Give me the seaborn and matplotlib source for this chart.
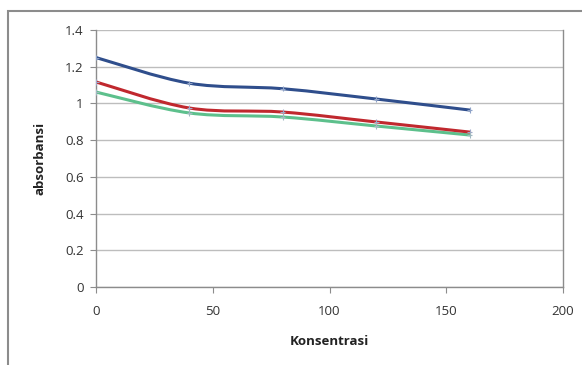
import numpy as np
import pandas as pd
import matplotlib
matplotlib.use("Agg")
import matplotlib.pyplot as plt
import seaborn as sns
from matplotlib.path import Path
from matplotlib.patches import PathPatch, Rectangle

konsentrasi = [0, 40, 80, 120, 160]
seri_biru = [1.25, 1.11, 1.08, 1.024, 0.964]
seri_merah = [1.117, 0.975, 0.953, 0.899, 0.844]
seri_hijau = [1.062, 0.948, 0.926, 0.877, 0.828]
y_ticks = [0, 0.2, 0.4, 0.6, 0.8, 1, 1.2, 1.4]
y_ticklabels = ["0", "0.2", "0.4", "0.6", "0.8", "1", "1.2", "1.4"]
x_ticks = [0, 50, 100, 150, 200]

colors = {"biru": "#2F4E8C", "merah": "#C0282E", "hijau": "#5DC08C"}

sns.set_theme(style="white")
plt.rcParams['font.family'] = ['Open Sans', 'DejaVu Sans']

fig = plt.figure(figsize=(5.82, 3.65), dpi=100)
ax = fig.add_axes([96/582, 1-287/365, (563-96)/582, (287-30)/365])

df = pd.DataFrame({
    "Konsentrasi": konsentrasi * 3,
    "absorbansi": seri_biru + seri_merah + seri_hijau,
    "seri": ["biru"] * 5 + ["merah"] * 5 + ["hijau"] * 5,
})

def smooth_path(xs, ys):
    pts = np.column_stack([xs, ys]).astype(float)
    verts = [pts[0]]
    codes = [Path.MOVETO]
    n = len(pts)
    for i in range(n - 1):
        p0 = pts[i - 1] if i > 0 else pts[i]
        p1 = pts[i]
        p2 = pts[i + 1]
        p3 = pts[i + 2] if i + 2 < n else pts[i + 1]
        c1 = p1 + (p2 - p0) / 6
        c2 = p2 - (p3 - p1) / 6
        verts += [c1, c2, p2]
        codes += [Path.CURVE4] * 3
    return Path(verts, codes)

for name, ys in [("hijau", seri_hijau), ("merah", seri_merah), ("biru", seri_biru)]:
    patch = PathPatch(smooth_path(konsentrasi, ys), facecolor="none",
                      edgecolor=colors[name], lw=2.2, zorder=3, capstyle="round")
    ax.add_patch(patch)

sns.scatterplot(data=df, x="Konsentrasi", y="absorbansi", hue="seri",
                palette={"biru": "#8FA3C8", "merah": "#A0A8C8", "hijau": "#A0B8C0"},
                marker="+", s=14, linewidth=0.8, legend=False, ax=ax, zorder=4)

ax.set_xlim(0, 200)
ax.set_ylim(0, 1.4)
ax.set_xticks(x_ticks)
ax.set_yticks(y_ticks)
ax.set_yticklabels(y_ticklabels)
ax.yaxis.grid(True, color="#BDBDBD", lw=1)
ax.xaxis.grid(False)
ax.spines["top"].set_visible(False)
for s in ["left", "bottom", "right"]:
    ax.spines[s].set_color("#8C8C8C")
    ax.spines[s].set_linewidth(1)
ax.tick_params(axis="both", which="both", length=4, width=0.8, color="#8C8C8C",
               labelsize=9.5, labelcolor="#333333", direction="out", pad=5,
               left=True, bottom=True)
ax.tick_params(axis="x", pad=9)
ax.set_xlabel("Konsentrasi", fontsize=9.5, fontweight="bold", color="#222222", labelpad=12)
ax.set_ylabel("absorbansi", fontsize=9.5, fontweight="bold", color="#222222", labelpad=13)

fig.patches.append(Rectangle((8/582, -0.05), 1.0, 1.05 - 11/365,
                             transform=fig.transFigure, fill=False,
                             edgecolor="#8C8C8C", lw=1.5))

fig.savefig("out.png", dpi=100)
